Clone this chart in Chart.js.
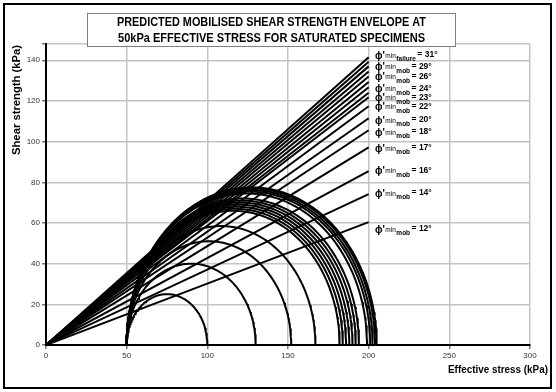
<!DOCTYPE html>
<html><head><meta charset="utf-8">
<script src="https://cdn.jsdelivr.net/npm/chart.js@4/dist/chart.umd.min.js"></script>
<style>html,body{margin:0;padding:0;background:#fff}#wrap{position:relative;width:556px;height:392px}</style>
</head><body><div id="wrap"><canvas id="c" width="556" height="392"></canvas></div>
<script>
// ---- data ----
const titleLines = ['PREDICTED MOBILISED SHEAR STRENGTH ENVELOPE AT', '50kPa EFFECTIVE STRESS FOR SATURATED SPECIMENS'];
const xTitle = 'Effective stress (kPa)';
const yTitle = 'Shear strength (kPa)';
const xTicks = [0, 50, 100, 150, 200, 250, 300];
const yTicks = [0, 20, 40, 60, 80, 100, 120, 140];
const envelopeEndX = 200;
const envelopeEndY = [141.5, 139.3, 137, 134.5, 132, 129.3, 126.7, 124, 121.8, 117.4, 111.5, 105.6, 97.2, 85.5, 74.2, 60.4];
const labelAngles = [31, 29, 26, 24, 23, 22, 20, 18, 17, 16, 14, 12];
const labelSubs = ['failure', 'mob', 'mob', 'mob', 'mob', 'mob', 'mob', 'mob', 'mob', 'mob', 'mob', 'mob'];
const labelY = [142.4, 136.7, 131.8, 126.1, 121.5, 117.1, 110.5, 104.5, 96.8, 85.6, 74.7, 57.0];
const sigma3 = 50;
const sigma1 = [100, 130, 152, 167, 182, 184, 186, 188, 190, 192, 194, 199, 201, 202.5, 204, 205];

const FONT = "'Liberation Sans Narrow', 'Liberation Sans', Arial, sans-serif";

// ---- datasets ----
const datasets = [];
envelopeEndY.forEach(v => datasets.push({
  data: [{x: 0, y: 0}, {x: envelopeEndX, y: v}],
  borderColor: '#000', borderWidth: 2, pointRadius: 0, showLine: true, fill: false
}));
sigma1.forEach(s1 => {
  const c = (sigma3 + s1) / 2, r = (s1 - sigma3) / 2;
  const pts = [];
  for (let a = 180; a >= 0; a -= 1.5) {
    const t = a * Math.PI / 180;
    pts.push({x: c + r * Math.cos(t), y: r * Math.sin(t)});
  }
  datasets.push({data: pts, borderColor: '#000', borderWidth: 2, pointRadius: 0, showLine: true, fill: false, tension: 0});
});

function fitText(ctx, text, x, y, w, align) {
  const m = ctx.measureText(text).width;
  const sx = w / m;
  ctx.save();
  ctx.translate(x, y);
  ctx.scale(sx, 1);
  ctx.textAlign = align || 'left';
  ctx.fillText(text, 0, 0);
  ctx.restore();
}

const decor = {
  id: 'decor',
  afterDraw(chart) {
    const ctx = chart.ctx;
    const ys = chart.scales.y;
    // outer frame
    ctx.save();
    ctx.strokeStyle = '#000'; ctx.lineWidth = 2;
    ctx.strokeRect(4, 4, 547, 384);
    // title box
    ctx.fillStyle = '#fff';
    ctx.fillRect(87, 13, 369, 34);
    ctx.strokeStyle = '#808080'; ctx.lineWidth = 1;
    ctx.strokeRect(87.5, 13.5, 368, 33);
    ctx.fillStyle = '#000';
    ctx.textBaseline = 'middle';
    ctx.font = 'bold 12px ' + FONT;
    fitText(ctx, titleLines[0], 117, 22.5, 309);
    fitText(ctx, titleLines[1], 118, 38.5, 307);
    // axis titles
    ctx.font = 'bold 10.5px ' + FONT;
    fitText(ctx, xTitle, 448, 370, 100);
    ctx.save();
    ctx.translate(17, 100);
    ctx.rotate(-Math.PI / 2);
    fitText(ctx, yTitle, -55, 0, 110);
    ctx.restore();
    // angle labels
    labelAngles.forEach((ang, i) => {
      const y = ys.getPixelForValue(labelY[i]);
      let x = 375;
      ctx.textAlign = 'left';
      ctx.textBaseline = 'alphabetic';
      ctx.font = 'bold 10px ' + FONT;
      ctx.fillText("\u03D5'", x, y + 3.5);
      x += ctx.measureText("\u03D5'").width + 0.5;
      ctx.font = '6.5px ' + FONT;
      ctx.fillText('min', x, y + 2.5);
      x += ctx.measureText('min').width + 0.5;
      ctx.font = 'bold 6.5px ' + FONT;
      ctx.fillText(labelSubs[i], x, y + 6);
      x += ctx.measureText(labelSubs[i]).width + 1.5;
      ctx.font = 'bold 8.5px ' + FONT;
      ctx.fillText('= ' + ang + '\u00B0', x, y + 2);
    });
    ctx.restore();
  }
};

new Chart(document.getElementById('c'), {
  type: 'scatter',
  data: {datasets},
  options: {
    responsive: false, animation: false,
    layout: {padding: {left: 0, right: 26, top: 44, bottom: 0}},
    plugins: {legend: {display: false}, tooltip: {enabled: false}},
    elements: {line: {borderCapStyle: 'butt'}},
    scales: {
      x: {
        type: 'linear', min: 0, max: 300,
        afterBuildTicks: s => { s.ticks = xTicks.map(v => ({value: v})); },
        afterFit: s => { s.height = 47; },
        grid: {color: '#c4c4c4', lineWidth: 1.5, tickLength: 4, tickColor: '#777'},
        border: {color: '#000', width: 2},
        ticks: {font: {family: FONT, size: 8}, color: '#333', padding: 2, maxRotation: 0, autoSkip: false}
      },
      y: {
        type: 'linear', min: 0, max: 148,
        afterBuildTicks: s => { s.ticks = yTicks.concat([148]).map(v => ({value: v})); },
        afterFit: s => { s.width = 46; },
        grid: {color: '#c4c4c4', lineWidth: 1.5, tickLength: 4, tickColor: '#777'},
        border: {color: '#000', width: 2},
        ticks: {font: {family: FONT, size: 8}, color: '#333', padding: 2, autoSkip: false,
          callback: v => yTicks.includes(v) ? String(v) : ''}
      }
    }
  },
  plugins: [decor]
});
</script></body></html>
